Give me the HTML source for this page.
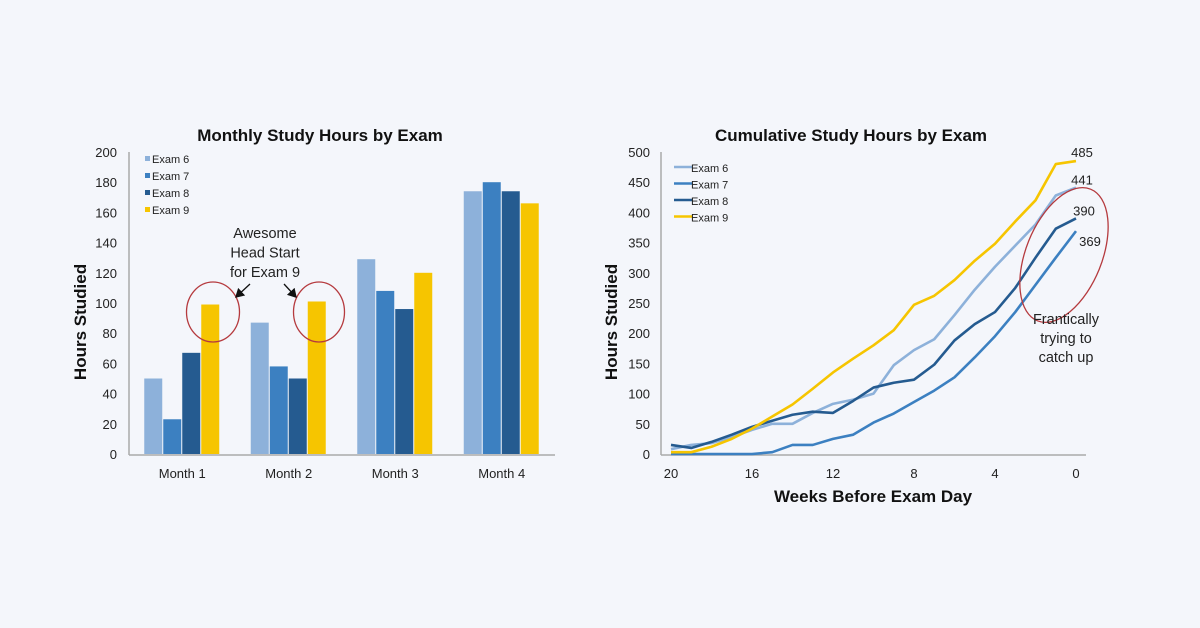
<!DOCTYPE html>
<html><head><meta charset="utf-8"><style>
body{margin:0;background:#f4f6fb;}
svg{display:block;font-family:"Liberation Sans",sans-serif;}
</style></head><body>
<svg id="c" width="1200" height="628" viewBox="0 0 1200 628">
<rect width="1200" height="628" fill="#f4f6fb"/>
<g id="left"></g>
<g id="right"></g>
</svg>
<script>
const months=["Month 1","Month 2","Month 3","Month 4"];
const exams=["Exam 6","Exam 7","Exam 8","Exam 9"];
const exam6Monthly=[50,87,129,174];
const exam7Monthly=[23,58,108,180];
const exam8Monthly=[67,50,96,174];
const exam9Monthly=[99,101,120,166];
const barTicks=[0,20,40,60,80,100,120,140,160,180,200];
const weeks=[20,19,18,17,16,15,14,13,12,11,10,9,8,7,6,5,4,3,2,1,0];
const exam6Cum=[8,15,18,28,40,50,50,68,83,90,100,147,172,190,230,272,310,345,380,428,441];
const exam7Cum=[0,0,0,0,0,3,15,15,25,32,52,67,86,105,127,160,195,235,280,325,369];
const exam8Cum=[15,10,20,32,45,55,65,70,68,88,110,118,123,148,188,215,235,275,325,373,390];
const exam9Cum=[3,3,12,25,42,62,82,108,135,158,180,205,247,262,288,320,348,385,420,480,485];
const lineTicks=[0,50,100,150,200,250,300,350,400,450,500];
const weekTicks=[20,16,12,8,4,0];
const finalLabels=["441","369","390","485"];
const colors=["#8db1da","#3c80c1","#255b90","#f6c500"];
const NS="http://www.w3.org/2000/svg";
function el(p,t,a,txt){const e=document.createElementNS(NS,t);for(const k in a)e.setAttribute(k,a[k]);if(txt!==undefined)e.textContent=txt;p.appendChild(e);return e;}
// LEFT
const L=document.getElementById('left');
const ly=v=>454-v*1.51;
const catW=106.5,ax0=129;
const lx=i=>ax0+catW*i+catW/2;
el(L,'text',{x:320,y:141,'text-anchor':'middle','font-size':17,'font-weight':'bold',fill:'#111',},"Monthly Study Hours by Exam");
barTicks.forEach(t=>{el(L,'text',{x:117,y:ly(t)+5,'text-anchor':'end','font-size':13,fill:'#222',},t);});
const series=[exam6Monthly,exam7Monthly,exam8Monthly,exam9Monthly];
series.forEach((s,si)=>s.forEach((v,i)=>{
 const x=lx(i)-38+si*19;
 const r=el(L,'rect',{x:x,y:ly(v),width:18,height:ly(0)-ly(v),fill:colors[si]});
 
 
}));
el(L,'line',{x1:129,y1:152,x2:129,y2:455,stroke:'#aaa','stroke-width':1.5,});
el(L,'line',{x1:129,y1:455,x2:555,y2:455,stroke:'#aaa','stroke-width':1.5,});
months.forEach((m,i)=>el(L,'text',{x:lx(i),y:478,'text-anchor':'middle','font-size':13,fill:'#222',},m));
el(L,'text',{x:0,y:0,transform:'translate(86,322) rotate(-90)','text-anchor':'middle','font-size':17,'font-weight':'bold',fill:'#111',},"Hours Studied");
exams.forEach((e,i)=>{const y=160+i*17;
 el(L,'rect',{x:145,y:y-4,width:5,height:5,fill:colors[i],});
 el(L,'text',{x:152,y:y+3,'font-size':11,fill:'#222',},e);});
const ann=el(L,'g',{});
["Awesome","Head Start","for Exam 9"].forEach((t,i)=>el(ann,'text',{x:265,y:238+i*19.5,'text-anchor':'middle','font-size':14.5,fill:'#222'},t));
el(ann,'ellipse',{cx:213,cy:312,rx:26.5,ry:30,fill:'none',stroke:'#b53a3e','stroke-width':1.3});
el(ann,'ellipse',{cx:319,cy:312,rx:25.5,ry:30,fill:'none',stroke:'#b53a3e','stroke-width':1.3});
el(ann,'defs',{}).innerHTML='<marker id="ah" markerWidth="8" markerHeight="8" refX="6" refY="4" orient="auto"><path d="M0,0 L7,4 L0,8 z" fill="#111"/></marker>';
el(ann,'line',{x1:250,y1:284,x2:236,y2:297,stroke:'#111','stroke-width':1.3,'marker-end':'url(#ah)'});
el(ann,'line',{x1:284,y1:284,x2:296,y2:297,stroke:'#111','stroke-width':1.3,'marker-end':'url(#ah)'});
// RIGHT
const R=document.getElementById('right');
const ry=v=>454-v*0.604;
const rx=w=>1076-w*20.25;
el(R,'text',{x:851,y:141,'text-anchor':'middle','font-size':17,'font-weight':'bold',fill:'#111',},"Cumulative Study Hours by Exam");
lineTicks.forEach(t=>el(R,'text',{x:650,y:ry(t)+5,'text-anchor':'end','font-size':13,fill:'#222',},t));
weekTicks.forEach(w=>el(R,'text',{x:rx(w),y:478,'text-anchor':'middle','font-size':13,fill:'#222',},w));
el(R,'line',{x1:661,y1:152,x2:661,y2:455,stroke:'#aaa','stroke-width':1.5,});
el(R,'line',{x1:661,y1:455,x2:1086,y2:455,stroke:'#aaa','stroke-width':1.5,});
const cum=[exam6Cum,exam7Cum,exam8Cum,exam9Cum];
cum.forEach((s,si)=>{
 const p=el(R,'polyline',{points:s.map((v,i)=>rx(weeks[i])+','+ry(v)).join(' '),fill:'none',stroke:colors[si],'stroke-width':2.6,'stroke-linejoin':'round'});
 
 
});
const lblOff=[[6,-3],[14,15],[8,-3],[6,-4]];
cum.forEach((s,si)=>{const v=s[s.length-1];
 const t=el(R,'text',{x:rx(0)+lblOff[si][0],y:ry(v)+lblOff[si][1],'text-anchor':'middle','font-size':13,fill:'#222'},finalLabels[si]);
 
 });
el(R,'text',{x:0,y:0,transform:'translate(617,322) rotate(-90)','text-anchor':'middle','font-size':17,'font-weight':'bold',fill:'#111',},"Hours Studied");
el(R,'text',{x:873,y:502,'text-anchor':'middle','font-size':17,'font-weight':'bold',fill:'#111',},"Weeks Before Exam Day");
exams.forEach((e,i)=>{const y=168+i*16.5;
 el(R,'line',{x1:674,y1:y-1,x2:692,y2:y-1,stroke:colors[i],'stroke-width':2.5,});
 el(R,'text',{x:691,y:y+4,'font-size':11,fill:'#222',},e);});
const ann2=el(R,'g',{});
el(ann2,'ellipse',{cx:1064,cy:255,rx:38,ry:71,transform:'rotate(22 1064 255)',fill:'none',stroke:'#b53a3e','stroke-width':1.3});
["Frantically","trying to","catch up"].forEach((t,i)=>el(ann2,'text',{x:1066,y:324+i*19,'text-anchor':'middle','font-size':14.5,fill:'#222'},t));
</script>
</body></html>
